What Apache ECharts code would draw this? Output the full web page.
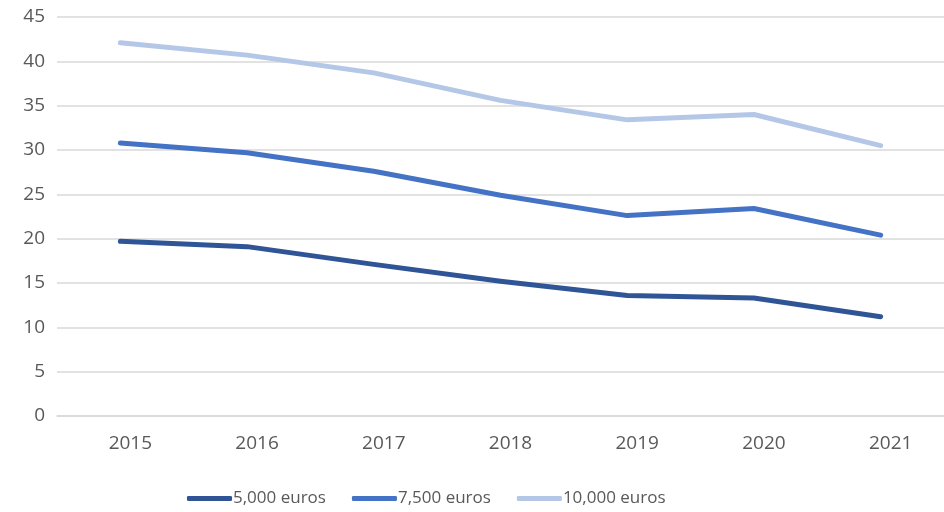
<!DOCTYPE html>
<html><head><meta charset="utf-8">
<script src="https://cdn.jsdelivr.net/npm/echarts@6/dist/echarts.min.js"></script>
<style>html,body{margin:0;padding:0;background:#fff}#c{width:944px;height:512px}</style>
</head><body><div id="c"></div>
<script>
const years = ['2015','2016','2017','2018','2019','2020','2021'];
const s5000 = [19.7, 19.1, 17.1, 15.2, 13.6, 13.3, 11.2];
const s7500 = [30.8, 29.7, 27.6, 24.9, 22.6, 23.4, 20.4];
const s10000 = [42.1, 40.7, 38.7, 35.6, 33.4, 34.0, 30.5];
const names = ['5,000 euros', '7,500 euros', '10,000 euros'];
const colors = ['#2F5597', '#4472C4', '#B4C7E7'];
const font = '"Open Sans", "Noto Sans", sans-serif';
const chart = echarts.init(document.getElementById('c'), null, {renderer: 'canvas'});
const mk = (name, data, color) => ({
  name, type: 'line', data, symbol: 'none', smooth: false,
  lineStyle: {width: 5, color, cap: 'round', join: 'round'}, itemStyle: {color}
});
chart.setOption({
  animation: false,
  grid: {left: 57, right: 0, top: 17, bottom: 96, containLabel: false},
  legend: {
    bottom: 0, left: 182, itemWidth: 45, itemHeight: 5, itemGap: 26,
    icon: 'roundRect',
    textStyle: {fontFamily: font, fontSize: 17, color: '#595959', padding: [0,0,0,-4]},
    data: names
  },
  xAxis: {
    type: 'category', data: years, boundaryGap: true,
    axisLine: {lineStyle: {color: '#D9D9D9', width: 1.5}},
    axisTick: {show: false},
    axisLabel: {fontFamily: font, fontSize: 19, color: '#595959', margin: 18, padding: [0,0,0,20]}
  },
  yAxis: {
    type: 'value', min: 0, max: 45, interval: 5,
    axisLine: {show: false}, axisTick: {show: false},
    splitLine: {lineStyle: {color: '#D9D9D9', width: 1.5}},
    axisLabel: {fontFamily: font, fontSize: 19, color: '#595959', margin: 12}
  },
  series: [mk(names[0], s5000, colors[0]), mk(names[1], s7500, colors[1]), mk(names[2], s10000, colors[2])]
});
</script></body></html>
